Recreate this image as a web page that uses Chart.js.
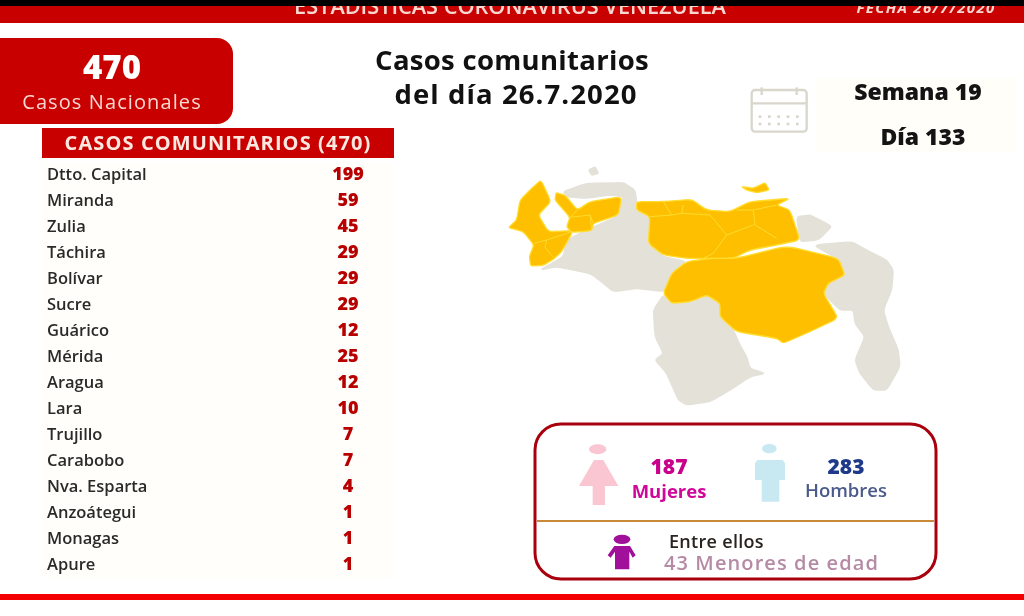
<!DOCTYPE html>
<html>
<head>
<meta charset="utf-8">
<title>Casos comunitarios</title>
<script src="https://cdn.jsdelivr.net/npm/chart.js@4/dist/chart.umd.min.js"></script>
<style>
  html, body { margin: 0; padding: 0; background: #fff; overflow: hidden; }
  canvas { display: block; filter: blur(0.6px); }
</style>
</head>
<body>
<canvas id="chartCasos" width="1024" height="616"></canvas>
<script>
const estados = ['Dtto. Capital', 'Miranda', 'Zulia', 'Táchira', 'Bolívar', 'Sucre', 'Guárico', 'Mérida', 'Aragua', 'Lara', 'Trujillo', 'Carabobo', 'Nva. Esparta', 'Anzoátegui', 'Monagas', 'Apure']
const casos = [199, 59, 45, 29, 29, 29, 12, 25, 12, 10, 7, 7, 4, 1, 1, 1]

const FONT = '"Open Sans", sans-serif'
const RED = '#c80000'

// map outlines, in the 3x coordinates of the zoomed map
const mapaGris = [
  [150,330,220,290,230,240,300,205,380,170,400,110,360,105,290,115,230,110,220,95,290,70,400,68,435,90,440,125,440,155,480,170,475,250,520,290,590,305,545,340,525,395,440,385,370,395,340,370,300,340,200,320],
  [296,30,315,20,326,40,305,46],
  [520,405,490,450,495,530,520,580,495,600,530,640,565,720,590,735,660,725,720,690,780,650,825,640,780,625,770,590,750,555,730,510,690,470,690,430,650,405,600,425,545,430],
  [920,170,960,165,1000,185,1025,200,985,240,930,245],
  [970,255,1085,245,1130,270,1190,300,1210,330,1205,390,1180,450,1195,500,1225,570,1230,620,1190,690,1150,690,1110,640,1095,600,1125,530,1095,490,1090,450,1050,450,1000,400,1015,370,1065,345,1040,295],
]
const mapaAmarillo = [
  [55,203,80,180,90,120,125,85,153,60,183,125,145,165,175,215,250,212,215,275,190,298,160,316,122,318,118,290,132,255,100,215],
  [198,98,225,105,262,150,300,125,395,110,385,165,310,190,305,212,245,217,230,200,240,172,195,120],
  [440,125,520,125,605,118,650,150,720,155,780,125,900,115,860,135,900,150,930,240,860,255,780,270,730,295,640,295,590,295,520,285,475,250,480,170,440,150],
  [590,305,660,295,740,295,890,258,1045,295,1065,345,1015,370,1000,400,1045,475,960,515,880,550,860,535,740,515,690,470,690,430,650,405,600,425,545,430,520,400,545,340],
  [755,80,790,85,825,68,838,90,800,98,770,90],
]
const mapaLineas = [
  [480,170,545,165,575,160,660,165,710,225,670,280,640,295],
  [790,150,795,195,860,235],
  [520,125,545,165],
  [575,160,580,135],
  [710,225,790,195],
  [740,150,790,150,860,135],
  [132,250,170,240,165,262,190,292],
  [170,240,245,215],
  [240,172,300,165,305,210],
  [262,150,240,172],
  [300,165,310,190],
]

function poly(ctx, pts) {
  ctx.beginPath()
  ctx.moveTo(pts[0], pts[1])
  for (let i = 2; i < pts.length; i += 2) ctx.lineTo(pts[i], pts[i + 1])
}

// same outline but with the corners slightly rounded
function smooth(ctx, pts) {
  const n = pts.length
  const t = 0.2
  ctx.beginPath()
  for (let i = 0; i < n; i += 2) {
    const x = pts[i]
    const y = pts[i + 1]
    const px = pts[(i - 2 + n) % n]
    const py = pts[(i - 1 + n) % n]
    const nx = pts[(i + 2) % n]
    const ny = pts[(i + 3) % n]
    ctx.lineTo(x + (px - x) * t, y + (py - y) * t)
    ctx.quadraticCurveTo(x, y, x + (nx - x) * t, y + (ny - y) * t)
  }
  ctx.closePath()
}

function text(ctx, str, x, y, font, color, align, spacing) {
  ctx.font = font
  ctx.fillStyle = color
  ctx.textAlign = align || 'center'
  ctx.textBaseline = 'middle'
  ctx.letterSpacing = (spacing || 0) + 'px'
  ctx.fillText(str, x, y)
  ctx.letterSpacing = '0px'
}

function drawMap(ctx) {
  ctx.save()
  ctx.translate(490, 160)
  ctx.scale(1 / 3, 1 / 3)
  ctx.lineJoin = 'round'
  ctx.lineWidth = 4
  ctx.fillStyle = '#e3e1d8'
  ctx.strokeStyle = '#e3e1d8'
  mapaGris.forEach(p => { smooth(ctx, p); ctx.fill(); ctx.stroke() })
  ctx.fillStyle = '#fdbf00'
  ctx.strokeStyle = '#ffdc2e'
  mapaAmarillo.forEach(p => { smooth(ctx, p); ctx.fill(); ctx.stroke() })
  ctx.lineWidth = 3
  mapaLineas.forEach(p => { poly(ctx, p); ctx.stroke() })
  ctx.restore()
}

function drawPanel(ctx) {
  ctx.beginPath()
  ctx.roundRect(535, 424, 401, 155, 26)
  ctx.strokeStyle = '#a8000c'
  ctx.lineWidth = 3
  ctx.stroke()
  ctx.fillStyle = '#c98a3a'
  ctx.fillRect(537, 520, 397, 2)

  ctx.save()
  ctx.translate(520, 410)
  ctx.scale(1 / 3, 1 / 3)
  ctx.fillStyle = '#f9c6d2'
  ctx.beginPath(); ctx.ellipse(233, 118, 26, 15, 0, 0, 7); ctx.fill()
  poly(ctx, [222,150,250,150,295,228,255,228,255,285,218,285,218,228,177,228]); ctx.fill()
  ctx.fillStyle = '#c9e9f2'
  ctx.beginPath(); ctx.ellipse(748, 116, 22, 14, 0, 0, 7); ctx.fill()
  poly(ctx, [712,150,788,150,795,160,795,210,778,210,778,275,725,275,725,210,705,210,705,160]); ctx.fill()
  ctx.fillStyle = '#a0109a'
  ctx.beginPath(); ctx.ellipse(306, 388, 25, 14, 0, 0, 7); ctx.fill()
  poly(ctx, [283,408,330,408,347,436,338,443,328,425,328,478,285,478,285,425,272,443,263,436]); ctx.fill()
  ctx.restore()

  text(ctx, '187', 669, 468, `800 21px ${FONT}`, '#c8008c')
  text(ctx, 'Mujeres', 669, 493, `700 18.5px ${FONT}`, '#d0089a')
  text(ctx, '283', 846, 468, `800 21px ${FONT}`, '#1f3a8a')
  text(ctx, 'Hombres', 846, 492, `600 18.5px ${FONT}`, '#4a5a8a')
  text(ctx, 'Entre ellos', 669, 543, `600 18px ${FONT}`, '#2a2420', 'left', 0.3)
  text(ctx, '43 Menores de edad', 664, 564, `600 20px ${FONT}`, '#b58aa5', 'left', 1.1)
}

function drawCalendar(ctx) {
  ctx.save()
  ctx.translate(730, 0)
  ctx.scale(1 / 3, 1 / 3)
  ctx.strokeStyle = '#d9d6cc'
  ctx.fillStyle = '#d9d6cc'
  ctx.lineWidth = 7
  ctx.beginPath(); ctx.roundRect(65, 270, 165, 125, 10); ctx.stroke()
  poly(ctx, [65, 310, 230, 310]); ctx.stroke()
  poly(ctx, [95, 262, 95, 285]); ctx.stroke()
  poly(ctx, [200, 262, 200, 285]); ctx.stroke()
  ;[350, 372].forEach(y => {
    for (let x = 90; x <= 205; x += 28) ctx.fillRect(x - 4, y - 4, 8, 8)
  })
  ctx.restore()
}

// all the artwork around the table
const infografia = {
  id: 'infografia',
  beforeDraw(chart) {
    const { ctx, chartArea } = chart
    ctx.save()
    ctx.fillStyle = '#fff'
    ctx.fillRect(0, 0, 1024, 616)

    // top band, its text is cut by the black strip
    ctx.fillStyle = RED
    ctx.fillRect(0, 6, 1024, 17)
    text(ctx, 'ESTADÍSTICAS CORONAVIRUS VENEZUELA', 510, 8, `600 21.7px ${FONT}`, '#f8d8d0')
    text(ctx, 'FECHA 26/7/2020', 926, 9, `italic 700 15px ${FONT}`, '#f8d8d0', 'center', 1.3)
    ctx.fillStyle = '#000'
    ctx.fillRect(0, 0, 1024, 6)

    // bottom line
    ctx.fillStyle = '#f40000'
    ctx.fillRect(0, 594, 1024, 6)

    // national total box
    ctx.fillStyle = RED
    ctx.beginPath()
    ctx.roundRect(-20, 38, 253, 86, 16)
    ctx.fill()
    text(ctx, '470', 112, 70, `800 33px ${FONT}`, '#fff')
    text(ctx, 'Casos Nacionales', 112, 103, `500 20px ${FONT}`, '#f8d8d0', 'center', 1.1)

    // title
    text(ctx, 'Casos comunitarios', 512, 62, `700 27.5px ${FONT}`, '#111', 'center', 0.3)
    text(ctx, 'del día 26.7.2020', 516, 96, `700 27.5px ${FONT}`, '#111', 'center', 1.1)

    // table header and faint rows
    ctx.fillStyle = RED
    ctx.fillRect(42, 128, 352, 30)
    text(ctx, 'CASOS COMUNITARIOS (470)', 218, 144, `700 20px ${FONT}`, '#fbe8e0', 'center', 1.1)
    ctx.fillStyle = '#fffefa'
    ctx.fillRect(chartArea.left, chartArea.top, chartArea.width, chartArea.height)

    // week / day box
    ctx.fillStyle = '#fffef9'
    ctx.fillRect(815, 78, 200, 74)
    text(ctx, 'Semana 19', 918, 93, `800 23px ${FONT}`, '#141414')
    text(ctx, 'Día 133', 923, 138, `800 23px ${FONT}`, '#141414')

    drawCalendar(ctx)
    drawMap(ctx)
    drawPanel(ctx)
    ctx.restore()
  },
  afterDatasetsDraw(chart) {
    const { ctx, chartArea, scales } = chart
    ctx.save()
    casos.forEach((v, i) => {
      text(ctx, String(v), chartArea.left + 306, scales.y.getPixelForValue(i), `800 18px ${FONT}`, '#b80000')
    })
    ctx.restore()
  },
}

new Chart(document.getElementById('chartCasos'), {
  type: 'bar',
  data: {
    labels: estados,
    datasets: [{ label: 'Casos comunitarios', data: casos, backgroundColor: 'transparent' }],
  },
  options: {
    indexAxis: 'y',
    responsive: false,
    animation: false,
    layout: { padding: { left: 42, right: 630, top: 162, bottom: 38 } },
    plugins: {
      legend: { display: false },
      tooltip: { enabled: false },
      title: { display: false },
    },
    scales: {
      x: { display: false, min: 0 },
      y: {
        afterFit: scale => { scale.width = 0 },
        grid: { display: false },
        border: { display: false },
        ticks: {
          mirror: true,
          padding: 5,
          color: '#2c2a28',
          autoSkip: false,
          font: { family: FONT, size: 16.5, weight: '600' },
        },
      },
    },
  },
  plugins: [infografia],
})
</script>
</body>
</html>
